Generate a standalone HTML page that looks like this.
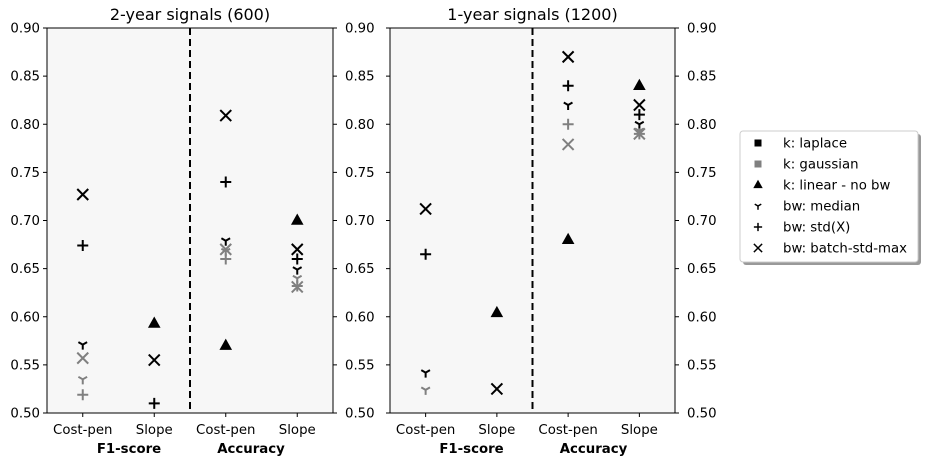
<!DOCTYPE html>
<html><head><meta charset="utf-8"><style>
body{margin:0;background:#fff;}
svg{display:block;font-family:"DejaVu Sans","Liberation Sans",sans-serif;}
</style></head><body>
<svg id="chart" width="931" height="464" viewBox="0 0 931 464" xmlns="http://www.w3.org/2000/svg">
<g id="root"></g>
<g>
  <rect x="743" y="134" width="178" height="131" fill="#999" rx="3"/>
  <rect x="740" y="131" width="178" height="131" fill="#fff" stroke="#ccc" rx="3"/>
  <g id="legend-items"></g>
</g>
</svg>
<script>
const categories = ["Cost-pen","Slope","Cost-pen","Slope"];
const groupLabels = ["F1-score","Accuracy"];
const yTicks = [0.50,0.55,0.60,0.65,0.70,0.75,0.80,0.85,0.90];
const panelTitles = ["2-year signals (600)","1-year signals (1200)"];
const p1LaplaceMedian = [0.571, null, 0.679, 0.649];
const p1LaplaceStd    = [0.674, 0.510, 0.740, 0.660];
const p1LaplaceBatch  = [0.727, 0.555, 0.809, 0.670];
const p1GaussMedian   = [0.535, null, 0.668, 0.640];
const p1GaussStd      = [0.519, null, 0.660, 0.632];
const p1GaussBatch    = [0.557, null, 0.670, 0.631];
const p1Linear        = [null, 0.593, 0.570, 0.700];
const p2LaplaceMedian = [0.542, null, 0.820, 0.800];
const p2LaplaceStd    = [0.665, null, 0.840, 0.810];
const p2LaplaceBatch  = [0.712, 0.525, 0.870, 0.820];
const p2GaussMedian   = [0.524, null, null, 0.793];
const p2GaussStd      = [null, null, 0.800, 0.790];
const p2GaussBatch    = [null, null, 0.779, 0.790];
const p2Linear        = [null, 0.604, 0.680, 0.840];

const NS="http://www.w3.org/2000/svg";
const root=document.getElementById('root');
function mk(tag,attrs,parent){const e=document.createElementNS(NS,tag);for(const k in attrs)e.setAttribute(k,attrs[k]);(parent||root).appendChild(e);return e;}
const plotTop=28,plotBottom=413,ymin=0.5,ymax=0.9;
function yS(v){return plotBottom-(v-ymin)/(ymax-ymin)*(plotBottom-plotTop);}
function marker(g,type,cx,cy,color){
  const sw=2;
  if(type==='x'){const r=5.5;mk('path',{d:`M${cx-r},${cy-r}L${cx+r},${cy+r}M${cx-r},${cy+r}L${cx+r},${cy-r}`,stroke:color,'stroke-width':sw,fill:'none'},g);}
  else if(type==='+'){const r=5.5;mk('path',{d:`M${cx-r},${cy}L${cx+r},${cy}M${cx},${cy-r}L${cx},${cy+r}`,stroke:color,'stroke-width':sw,fill:'none'},g);}
  else if(type==='y'){const r=5;mk('path',{d:`M${cx},${cy}L${cx},${cy+r}M${cx},${cy}L${cx-r*0.87},${cy-r*0.5}M${cx},${cy}L${cx+r*0.87},${cy-r*0.5}`,stroke:color,'stroke-width':sw,fill:'none'},g);}
  else if(type==='tri'){const r=7;mk('path',{d:`M${cx},${cy-r}L${cx+r*0.9},${cy+r*0.6}L${cx-r*0.9},${cy+r*0.6}Z`,fill:color},g);}
  else if(type==='sq'){mk('rect',{x:cx-5,y:cy-5,width:10,height:10,fill:color},g);}
}
function panel(x0,x1,title,series,idx){
  const g=mk('g',{});
  
  
  const xS=i=>x0+(i+0.5)*(x1-x0)/4;
  mk('rect',{x:x0,y:plotTop,width:x1-x0,height:plotBottom-plotTop,fill:'#f7f7f7'},g);
  const mid=(x0+x1)/2;
  mk('line',{x1:mid,y1:plotTop,x2:mid,y2:plotBottom,stroke:'#000','stroke-width':2,'stroke-dasharray':'7,4'},g);
  const t=mk('text',{x:mid,y:20,'text-anchor':'middle','font-size':16},g);t.textContent=title;
  
  
  yTicks.forEach(v=>{
    const y=yS(v);
    mk('line',{x1:x0-4,y1:y,x2:x0,y2:y,stroke:'#000'},g);
    mk('line',{x1:x1,y1:y,x2:x1+4,y2:y,stroke:'#000'},g);
    const lt=mk('text',{x:x1+12,y:y+4.5,'font-size':13.3},g);lt.textContent=v.toFixed(2);
    
    
    if(idx===0){const l2=mk('text',{x:x0-7,y:y+4.5,'font-size':13.3,'text-anchor':'end'},g);l2.textContent=v.toFixed(2);
      
      }
  });
  categories.forEach((c,i)=>{
    const x=xS(i);
    mk('line',{x1:x,y1:plotBottom,x2:x,y2:plotBottom+4,stroke:'#000'},g);
    const ct=mk('text',{x:x,y:434,'text-anchor':'middle','font-size':13.3},g);ct.textContent=c;
    
    
  });
  groupLabels.forEach((l,i)=>{
    const gt=mk('text',{x:mid+(i===0?-61:61),y:453,'text-anchor':'middle','font-size':13.3,'font-weight':'bold'},g);gt.textContent=l;
    
    
  });
  series.forEach(s=>{
    s.vals.forEach((v,i)=>{
      if(v===null)return;
      const mg=mk('g',{},g);
      
      
      marker(mg,s.type,xS(i),yS(v),s.color);
    });
  });
  mk('rect',{x:x0,y:plotTop,width:x1-x0,height:plotBottom-plotTop,fill:'none',stroke:'#000','stroke-width':1},g);
}
const B='#000',G='#808080';
panel(47,333,panelTitles[0],[
  {name:'laplace-median',type:'y',color:B,vals:p1LaplaceMedian},
  {name:'laplace-std',type:'+',color:B,vals:p1LaplaceStd},
  {name:'laplace-batch',type:'x',color:B,vals:p1LaplaceBatch},
  {name:'gauss-median',type:'y',color:G,vals:p1GaussMedian},
  {name:'gauss-std',type:'+',color:G,vals:p1GaussStd},
  {name:'gauss-batch',type:'x',color:G,vals:p1GaussBatch},
  {name:'linear',type:'tri',color:B,vals:p1Linear}],0);
panel(390,675,panelTitles[1],[
  {name:'laplace-median',type:'y',color:B,vals:p2LaplaceMedian},
  {name:'laplace-std',type:'+',color:B,vals:p2LaplaceStd},
  {name:'laplace-batch',type:'x',color:B,vals:p2LaplaceBatch},
  {name:'gauss-median',type:'y',color:G,vals:p2GaussMedian},
  {name:'gauss-std',type:'+',color:G,vals:p2GaussStd},
  {name:'gauss-batch',type:'x',color:G,vals:p2GaussBatch},
  {name:'linear',type:'tri',color:B,vals:p2Linear}],1);
const legendLabels=["k: laplace","k: gaussian","k: linear - no bw","bw: median","bw: std(X)","bw: batch-std-max"];
const legendTypes=['sq','sq','tri','y','+','x'];
const legendColors=[B,G,B,B,B,B];
const lg=document.getElementById('legend-items');
legendLabels.forEach((l,i)=>{
  const y=143+i*21;
  const e=mk('g',{},lg);
  
  
  const sc=legendTypes[i]==='sq'?0.7:0.75;
  const mg=mk('g',{transform:`translate(758,${y}) scale(${sc})`},e);
  marker(mg,legendTypes[i],0,0,legendColors[i]);
  const t=mk('text',{x:783,y:y+4.5,'font-size':13.3},e);t.textContent=l;
});
</script>
</body></html>
